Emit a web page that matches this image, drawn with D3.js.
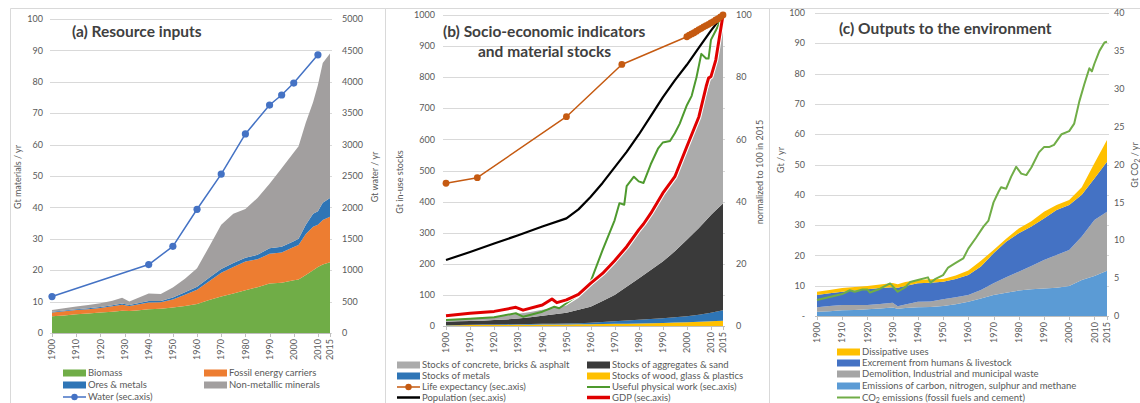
<!DOCTYPE html>
<html>
<head>
<meta charset="utf-8">
<script src="https://cdn.jsdelivr.net/npm/d3@7"></script>
<style>
  html, body { margin: 0; padding: 0; background: #fff; }
  svg { display: block; font-family: Lato, "Open Sans", sans-serif; }
  .tick-label { fill: #595959; font-size: 9px; }
  .axis-title { fill: #595959; font-size: 9px; }
  .legend-text { fill: #595959; font-size: 9.5px; }
  .panel-title { fill: #404040; font-size: 15.5px; font-weight: bold; }
</style>
</head>
<body>
<svg id="chart" width="1140" height="403"></svg>
<script>
// ---------- (a) Resource inputs, Gt / yr ----------
const yearsA = [1900,1905,1910,1915,1920,1925,1929,1932,1935,1940,1945,1950,1955,1960,1965,1970,1975,1980,1985,1990,1995,2000,2002,2005,2008,2010,2012,2015];
const biomass = [5.3,5.6,6.0,6.2,6.5,6.8,7.1,7.0,7.2,7.6,7.7,8.1,8.6,9.2,10.5,11.6,12.6,13.6,14.6,15.8,16.0,16.8,17.0,18.5,20.0,21.0,21.8,22.5];
const fossil = [1.2,1.3,1.3,1.4,1.5,1.7,1.9,1.6,1.8,2.1,2.1,2.6,3.6,4.6,6.0,7.6,8.4,9.2,8.9,9.4,9.6,10.6,11.0,13.0,13.8,13.5,14.2,14.5];
const ores = [0.3,0.3,0.3,0.3,0.3,0.3,0.4,0.3,0.4,0.5,0.4,0.6,0.8,0.9,1.1,1.2,1.3,1.2,1.4,1.8,1.9,1.8,2.0,3.0,4.2,4.3,5.5,6.0];
const nonMetallic = [0.5,0.7,0.8,1.0,1.2,1.5,1.8,1.1,1.6,2.4,2.2,3.2,4.3,5.9,9.9,14.1,15.7,15.5,18.1,20.5,25.0,28.3,29.5,32.5,35.5,40.2,44.5,46.0];
// water withdrawal, Gt / yr (secondary axis)
const waterYears = [1900,1940,1950,1960,1970,1980,1990,1995,2000,2010];
const water = [580,1090,1380,1970,2530,3170,3630,3790,3980,4430];

// ---------- (b) Stocks (Gt) and socio-economic indicators (2015 = 100) ----------
const yearsB = [1900,1905,1910,1915,1920,1925,1930,1935,1940,1945,1950,1955,1960,1965,1970,1975,1980,1985,1990,1995,2000,2005,2010,2012,2015];
const stockWood = [2,2.5,3,3,3.5,3.5,4,4,4.5,4.5,5,5.5,6,6.5,7,7.5,8,9,10,11,12,13.5,15,16,17];
const stockMetals = [1,1,1,1.5,1.5,2,2,2.5,2.5,3,3,3.5,4.5,6,8,10,12,13.5,15,17,19,22.5,28,30,34];
const stockAggregates = [11,11.5,12,12.5,14,15.5,18,21.5,26,30.5,35,43,51.5,67.5,85,108.5,133,157.5,182,212,246,279,314,326,343];
const stockConcrete = [6,7,8,10,11,13,15,17,19,20,23,38,66,80,102,122,149,175,213,230,293,350,438,478,606];

const lifeYears = [1900,1913,1950,1973,2000,2001,2002,2003,2004,2005,2006,2007,2008,2009,2010,2011,2012,2013,2014,2015];
const lifeExpectancy = [45.9,47.7,67.3,84.1,93.0,93.5,93.9,94.3,94.8,95.3,95.7,96.2,96.6,97.0,97.5,97.9,98.4,98.8,99.4,100];

const popYears = [1900,1910,1920,1930,1940,1950,1955,1960,1965,1970,1975,1980,1985,1990,1995,2000,2005,2010,2015];
const population = [21.2,23.8,26.5,29.2,32.0,34.6,37.5,41.5,46,51,56,61.5,67.5,73.5,79,84,89.5,95,100];

const workYears = [1900,1910,1920,1929,1932,1940,1945,1947,1950,1955,1960,1965,1970,1972,1974,1975,1978,1980,1982,1985,1988,1990,1993,1995,1997,2000,2002,2004,2006,2008,2009,2010,2012,2015];
const usefulWork = [1.9,2.3,2.8,4.1,3.0,4.6,6.2,5.7,7.3,10,14.2,24.4,34,39.5,39,45,48,46.5,46,52,57,59,59.5,62,65,71,74,80,87.5,86,86,92,95,100];

const gdpYears = [1900,1910,1920,1929,1932,1940,1944,1946,1950,1955,1960,1965,1970,1975,1980,1982,1985,1990,1995,2000,2005,2008,2009,2010,2012,2015];
const gdp = [3.3,4.1,4.7,6.0,5.1,6.75,8.7,7.5,8.4,10.2,13.7,16.9,21,25.5,30.9,32.8,36.2,42.7,48,57.7,67.3,77,79.7,80.2,85.5,100];

// ---------- (c) Outputs to the environment, Gt / yr ----------
const yearsC = [1900,1905,1910,1915,1920,1925,1930,1932,1935,1940,1945,1950,1955,1960,1965,1970,1975,1980,1985,1990,1995,2000,2005,2010,2015];
const emissions = [1.4,1.6,1.9,2.0,2.2,2.5,2.8,2.4,2.6,2.9,3.0,3.3,3.9,4.7,5.8,6.9,7.7,8.4,8.8,9.1,9.3,9.9,11.9,13.2,14.9];
const demolition = [1.5,1.7,1.7,1.6,1.4,1.5,1.6,0.8,1.2,1.8,1.8,2.2,2.3,2.2,2.8,3.9,5.1,6.2,7.7,9.4,10.8,11.9,14.3,18.5,19.5];
const excrement = [4.0,4.2,4.4,4.8,5.2,5.2,5.1,6.1,6.1,6.1,6.2,5.8,6.0,6.6,7.7,9.9,11.7,12.7,13.0,13.7,14.9,14.8,13.8,13.7,16.5];
const dissipative = [1.1,1.1,1.2,1.2,1.1,1.2,1.4,1.2,1.3,1.1,1.1,0.9,1.2,1.5,1.9,1.1,1.0,1.6,1.8,2.2,1.6,1.7,2.5,5.0,7.2];

const co2Years = [1900,1905,1910,1913,1915,1918,1920,1921,1925,1929,1932,1935,1937,1940,1944,1945,1947,1950,1952,1955,1958,1960,1963,1966,1968,1970,1972,1973,1975,1977,1979,1981,1983,1985,1988,1990,1992,1994,1997,2000,2002,2004,2006,2008,2009,2010,2012,2014,2015];
const co2 = [2.1,2.5,2.9,3.4,3.2,3.5,3.5,3.1,3.6,4.3,3.2,3.8,4.5,4.75,5.1,4.4,4.9,5.4,6.4,7.0,7.6,8.9,10.3,11.8,12.6,15.0,16.4,17.0,16.8,18.4,19.7,18.8,18.6,19.6,21.6,22.3,22.3,22.6,24.0,24.4,25.4,28.3,30.6,32.7,32.3,33.3,35.0,36.1,36.2];

const decadeTicks = [1900,1910,1920,1930,1940,1950,1960,1970,1980,1990,2000,2010,2015];

// ---------- drawing helpers ----------
const svg = d3.select("#chart");
const GRID = "#d9d9d9";
const FRAME = "#d9d9d9";

function frame(x0, x1) {
  svg.append("path")
    .attr("d", `M${x0},410V8.5H${x1}V410`)
    .attr("fill", "none").attr("stroke", FRAME).attr("stroke-width", 1);
}

function leftAxis(scale, ticks, xr, x0, x1, fmt) {
  const g = svg.append("g");
  g.selectAll("line").data(ticks).join("line")
    .attr("x1", x0).attr("x2", x1)
    .attr("y1", d => Math.round(scale(d)) + 0.5).attr("y2", d => Math.round(scale(d)) + 0.5)
    .attr("stroke", GRID);
  g.selectAll("text").data(ticks).join("text")
    .attr("class", "tick-label")
    .attr("x", xr).attr("y", d => scale(d)).attr("dy", "0.35em")
    .attr("text-anchor", "end")
    .text(fmt || (d => d));
}

function rightAxis(scale, ticks, xl) {
  svg.append("g").selectAll("text").data(ticks).join("text")
    .attr("class", "tick-label")
    .attr("x", xl).attr("y", d => scale(d)).attr("dy", "0.35em")
    .attr("text-anchor", "start")
    .text(d => d);
}

function bottomAxis(x, y0, x0, x1) {
  const g = svg.append("g");
  g.append("line").attr("x1", x0).attr("x2", x1).attr("y1", y0 + 0.5).attr("y2", y0 + 0.5).attr("stroke", "#bfbfbf");
  g.selectAll("line.tk").data(decadeTicks).join("line").attr("class", "tk")
    .attr("x1", d => Math.round(x(d)) + 0.5).attr("x2", d => Math.round(x(d)) + 0.5)
    .attr("y1", y0).attr("y2", y0 + 4).attr("stroke", "#bfbfbf");
  g.selectAll("text").data(decadeTicks).join("text")
    .attr("class", "tick-label")
    .attr("transform", d => `translate(${x(d)},${y0 + 6}) rotate(-90)`)
    .attr("dy", "0.35em").attr("text-anchor", "end")
    .text(d => d);
}

function axisTitle(text, x, y) {
  svg.append("text").attr("class", "axis-title")
    .attr("transform", `translate(${x},${y}) rotate(-90)`)
    .attr("text-anchor", "middle").attr("dy", "0.35em")
    .text(text);
}

function stackedAreas(years, layers, x, y) {
  const rows = years.map((yr, i) => {
    const r = { year: yr };
    layers.forEach(l => { r[l.key] = l.values[i]; });
    return r;
  });
  const series = d3.stack().keys(layers.map(l => l.key))(rows);
  const area = d3.area().x(d => x(d.data.year)).y0(d => y(d[0])).y1(d => y(d[1]));
  svg.append("g").selectAll("path").data(series).join("path")
    .attr("d", area)
    .attr("fill", (d, i) => layers[i].color);
}

function line(xs, ys, x, y, color, width, halo) {
  const pts = xs.map((v, i) => [x(v), y(ys[i])]);
  const gen = d3.line();
  if (halo) {
    svg.append("path").attr("d", gen(pts)).attr("fill", "none")
      .attr("stroke", "#fff").attr("stroke-width", width + 2).attr("stroke-linejoin", "round");
  }
  svg.append("path").attr("d", gen(pts)).attr("fill", "none")
    .attr("stroke", color).attr("stroke-width", width).attr("stroke-linejoin", "round");
  return pts;
}

function markers(pts, color, r) {
  svg.append("g").selectAll("circle").data(pts).join("circle")
    .attr("cx", d => d[0]).attr("cy", d => d[1]).attr("r", r).attr("fill", color);
}

function legendSwatch(x, y, color, label) {
  svg.append("rect").attr("x", x).attr("y", y - 3.5).attr("width", 23).attr("height", 7).attr("fill", color);
  svg.append("text").attr("class", "legend-text").attr("x", x + 25).attr("y", y).attr("dy", "0.35em").text(label);
}

function legendLine(x, y, color, width, label, marker) {
  svg.append("line").attr("x1", x).attr("x2", x + 23).attr("y1", y).attr("y2", y)
    .attr("stroke", color).attr("stroke-width", width);
  if (marker) svg.append("circle").attr("cx", x + 11.5).attr("cy", y).attr("r", 3.2).attr("fill", color);
  svg.append("text").attr("class", "legend-text").attr("x", x + 25).attr("y", y).attr("dy", "0.35em").text(label);
}

function title(lines, x, y0, lh) {
  lines.forEach((t, i) => {
    svg.append("text").attr("class", "panel-title")
      .attr("x", x[i]).attr("y", y0 + i * lh).attr("dy", "0.35em").text(t);
  });
}

// ---------- frames ----------
frame(10.5, 385.5);
frame(385.5, 769.5);
frame(769.5, 1150);

// ================= panel (a) =================
{
  const x = d3.scaleLinear([1900, 2015], [52, 330]);
  const yL = d3.scaleLinear([0, 100], [333, 19]);
  const yR = d3.scaleLinear([0, 5000], [333, 19]);
  leftAxis(yL, d3.range(0, 101, 10), 43, 50, 332);
  rightAxis(yR, d3.range(0, 5001, 500), 342);
  stackedAreas(yearsA, [
    { key: "bio", values: biomass, color: "#70ad47" },
    { key: "fos", values: fossil, color: "#ed7d31" },
    { key: "ore", values: ores, color: "#2e75b6" },
    { key: "non", values: nonMetallic, color: "#a29f9f" }
  ], x, yL);
  bottomAxis(x, 333, 52, 331);
  const pts = line(waterYears, water, x, yR, "#4472c4", 1.5);
  markers(pts, "#4472c4", 3.6);
  title(["(a) Resource inputs"], [72], 32, 0);
  axisTitle("Gt materials / yr", 18, 177);
  axisTitle("Gt water / yr", 375, 177);
  legendSwatch(63, 373, "#70ad47", "Biomass");
  legendSwatch(204, 373, "#ed7d31", "Fossil energy carriers");
  legendSwatch(63, 385, "#2e75b6", "Ores & metals");
  legendSwatch(204, 385, "#a29f9f", "Non-metallic minerals");
  legendLine(63, 397, "#4472c4", 1.5, "Water (sec.axis)", true);
}

// ================= panel (b) =================
{
  const x = d3.scaleLinear([1900, 2015], [446, 723]);
  const yL = d3.scaleLinear([0, 1000], [326, 15]);
  const yR = d3.scaleLinear([0, 100], [326, 15]);
  leftAxis(yL, d3.range(0, 1001, 100), 435, 443, 725);
  rightAxis(yR, d3.range(0, 101, 20), 736);
  stackedAreas(yearsB, [
    { key: "wood", values: stockWood, color: "#ffc000" },
    { key: "met", values: stockMetals, color: "#2e75b6" },
    { key: "agg", values: stockAggregates, color: "#3a3a3a" },
    { key: "con", values: stockConcrete, color: "#ababab" }
  ], x, yL);
  bottomAxis(x, 326, 443, 725);
  line(popYears, population, x, yR, "#000", 2.2);
  line(workYears, usefulWork, x, yR, "#4e9a2e", 2);
  line(gdpYears, gdp, x, yR, "#e00000", 3, true);
  const lp = line(lifeYears, lifeExpectancy, x, yR, "#c55a11", 1.5);
  markers(lp, "#c55a11", 3.4);
  title(["(b) Socio-economic indicators", "and material stocks"], [443, 478], 32, 20);
  axisTitle("Gt in-use stocks", 400, 182);
  axisTitle("normalized to 100 in 2015", 760, 172);
  legendSwatch(397, 365, "#ababab", "Stocks of concrete, bricks & asphalt");
  legendSwatch(587, 365, "#3a3a3a", "Stocks of aggregates & sand");
  legendSwatch(397, 376, "#2e75b6", "Stocks of metals");
  legendSwatch(587, 376, "#ffc000", "Stocks of wood, glass & plastics");
  legendLine(397, 387, "#c55a11", 1.5, "Life expectancy (sec.axis)", true);
  legendLine(587, 387, "#4e9a2e", 2, "Useful physical work (sec.axis)");
  legendLine(397, 397.5, "#000", 2.5, "Population (sec.axis)");
  legendLine(587, 397.5, "#e00000", 3.5, "GDP (sec.axis)");
}

// ================= panel (c) =================
{
  const x = d3.scaleLinear([1900, 2015], [817, 1107]);
  const yL = d3.scaleLinear([0, 100], [316, 13]);
  const yR = d3.scaleLinear([0, 40], [316, 13]);
  leftAxis(yL, d3.range(0, 101, 10), 805, 815, 1109, d => d === 0 ? "-" : d);
  rightAxis(yR, d3.range(0, 41, 5), 1114);
  stackedAreas(yearsC, [
    { key: "emi", values: emissions, color: "#5b9bd5" },
    { key: "dem", values: demolition, color: "#a5a5a5" },
    { key: "exc", values: excrement, color: "#4472c4" },
    { key: "dis", values: dissipative, color: "#ffc000" }
  ], x, yL);
  bottomAxis(x, 316, 815, 1109);
  line(co2Years, co2, x, yR, "#70ad47", 2);
  title(["(c) Outputs to the environment"], [839], 29, 0);
  axisTitle("Gt / yr", 781, 160);
  svg.append("text").attr("class", "axis-title")
    .attr("transform", "translate(1135,165) rotate(-90)")
    .attr("text-anchor", "middle").attr("dy", "0.35em")
    .html("Gt CO<tspan dy='2' font-size='7'>2</tspan><tspan dy='-2'> / yr</tspan>");
  legendSwatch(837, 352, "#ffc000", "Dissipative uses");
  legendSwatch(837, 363, "#4472c4", "Excrement from humans & livestock");
  legendSwatch(837, 374, "#a5a5a5", "Demolition, Industrial  and municipal waste");
  legendSwatch(837, 386, "#5b9bd5", "Emissions of carbon, nitrogen, sulphur and methane");
  svg.append("line").attr("x1", 837).attr("x2", 860).attr("y1", 397.5).attr("y2", 397.5)
    .attr("stroke", "#70ad47").attr("stroke-width", 2);
  svg.append("text").attr("class", "legend-text").attr("x", 862).attr("y", 397.5).attr("dy", "0.35em")
    .html("CO<tspan dy='2' font-size='7'>2</tspan><tspan dy='-2'> emissions (fossil fuels and cement)</tspan>");
}
</script>
</body>
</html>
